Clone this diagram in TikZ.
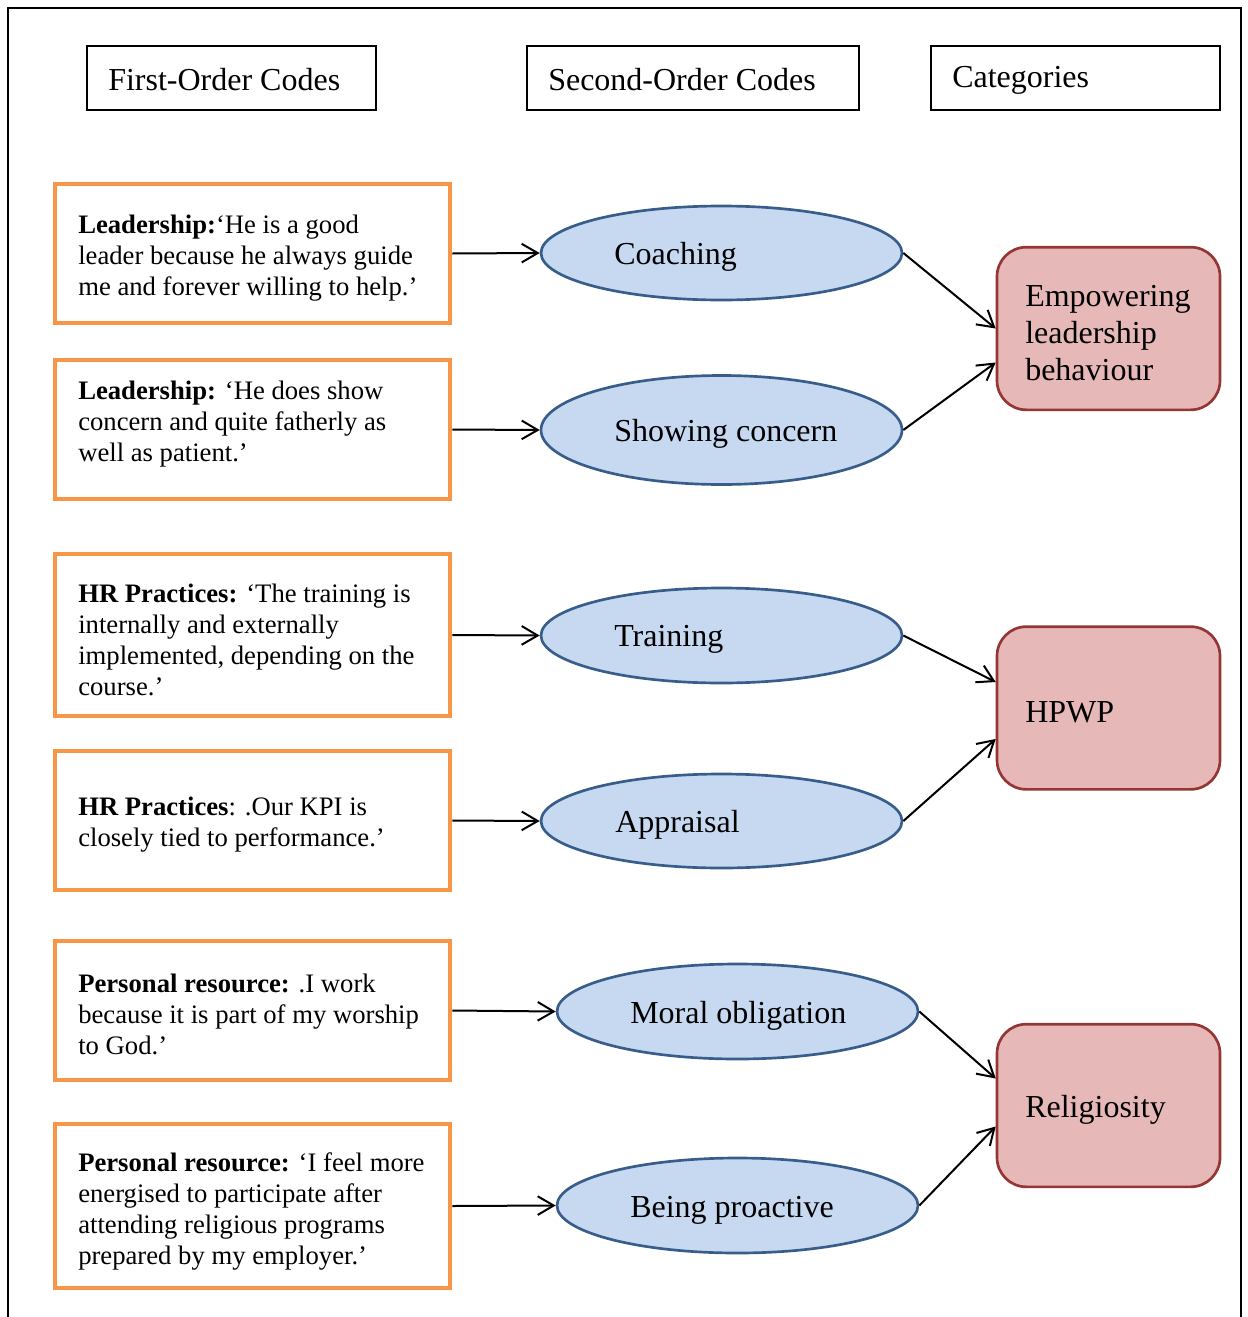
\documentclass[tikz,border=0pt]{standalone}
\usepackage{fontspec}
\setmainfont{Liberation Serif}
\usetikzlibrary{arrows.meta,shapes.geometric,calc}
\definecolor{obord}{HTML}{F79646}
\definecolor{efill}{HTML}{C6D9F1}
\definecolor{ebord}{HTML}{385D8A}
\definecolor{rfill}{HTML}{E6B9B8}
\definecolor{rbord}{HTML}{943634}
\tikzset{
  hdrbox/.style={draw=black, line width=1.5pt, inner sep=0pt, minimum width=#1*0.75pt, minimum height=48pt},
  obox/.style={draw=obord, line width=3.6pt, inner sep=0pt, minimum width=296.25pt},
  ell/.style={ellipse, draw=ebord, fill=efill, line width=2pt, inner sep=0pt, minimum width=270.75pt},
  cat/.style={draw=rbord, fill=rfill, line width=2pt, rounded corners=22pt, inner sep=0pt, minimum width=167.25pt, minimum height=122pt},
  bodytxt/.style={anchor=west, align=left, inner sep=0pt, font=\fontsize{20}{23.25}\selectfont},
  bigtxt/.style={anchor=west, align=left, inner sep=0pt, font=\fontsize{24}{27.75}\selectfont},
  conn/.style={line width=1.5pt, -{Straight Barb[length=12pt,width=14pt,line width=1.5pt]}}
}
\begin{document}
\begin{tikzpicture}[x=0.75pt,y=-0.75pt]
\useasboundingbox (0,0) rectangle (1248,1317);
% frame
\draw[line width=1.8pt] (8,1317) -- (8,8) -- (1241,8) -- (1241,1317);
% headers
\node[hdrbox=289] (h1) at (231.5,78) {};
\node[hdrbox=332] (h2) at (693,78) {};
\node[hdrbox=289] (h3) at (1075.5,78) {};
\node[bigtxt] (h1t) at (108,80) {First-Order Codes};
\node[bigtxt] (h2t) at (548,80) {Second-Order Codes};
\node[bigtxt] (h3t) at (952,80) {Categories};
% first-order boxes
\node[obox, minimum height=104.25pt] (b1) at (252.5,253.5) {};
\node[obox, minimum height=104.25pt] (b2) at (252.5,429.5) {};
\node[obox, minimum height=121.5pt] (b3) at (252.5,635) {};
\node[obox, minimum height=104.25pt] (b4) at (252.5,820.5) {};
\node[obox, minimum height=104.25pt] (b5) at (252.5,1010.5) {};
\node[obox, minimum height=123pt] (b6) at (252.5,1206) {};
\node[bodytxt] (b1t) at (78,258) {\textbf{Leadership:}‘He is a good\\leader because he always guide\\me and forever willing to help.’};
\node[bodytxt] (b2t) at (78,424) {\textbf{Leadership:} ‘He does show\\concern and quite fatherly as\\well as patient.’};
\node[bodytxt] (b3t) at (78,640) {\textbf{HR Practices:} ‘The training is\\internally and externally\\implemented, depending on the\\course.’};
\node[bodytxt] (b4t) at (78,825) {\textbf{HR Practices}: .Our KPI is\\closely tied to performance.’};
\node[bodytxt] (b5t) at (78,1014) {\textbf{Personal resource:} .I work\\because it is part of my worship\\to God.’};
\node[bodytxt] (b6t) at (78,1211) {\textbf{Personal resource:} ‘I feel more\\energised to participate after\\attending religious programs\\prepared by my employer.’};
% ellipses
\node[ell, minimum height=70.5pt] (e1) at (721.5,253) {};
\node[ell, minimum height=81.75pt] (e2) at (721.5,430) {};
\node[ell, minimum height=71.25pt] (e3) at (721.5,635.5) {};
\node[ell, minimum height=70.5pt] (e4) at (721.5,821) {};
\node[ell, minimum height=71.25pt] (e5) at (737.5,1011.5) {};
\node[ell, minimum height=71.25pt] (e6) at (737.5,1205.5) {};
\node[bigtxt] (e1t) at (614,257) {Coaching};
\node[bigtxt] (e2t) at (614,434) {Showing concern};
\node[bigtxt] (e3t) at (614,639) {Training};
\node[bigtxt] (e4t) at (615,825) {Appraisal};
\node[bigtxt] (e5t) at (630,1016) {Moral obligation};
\node[bigtxt] (e6t) at (630,1210) {Being proactive};
% categories
\node[cat] (r1) at (1108.5,328.5) {};
\node[cat] (r2) at (1108.5,708) {};
\node[cat] (r3) at (1108.5,1105.5) {};
\node[bigtxt] (r1t) at (1025,333) {Empowering\\leadership\\behaviour};
\node[bigtxt] (r2t) at (1025,712) {HPWP};
\node[bigtxt] (r3t) at (1025,1110) {Religiosity};
% connectors
\draw[conn] (b1.east) -- (e1.west);
\draw[conn] (b2.east) -- (e2.west);
\draw[conn] (b3.east) -- (e3.west);
\draw[conn] (b4.east) -- (e4.west);
\draw[conn] (b5.east) -- (e5.west);
\draw[conn] (b6.east) -- (e6.west);
\draw[conn] (e1.east) -- ($(r1.west)+(0,0)$);
\draw[conn] (e2.east) -- ($(r1.west)+(0,34)$);
\draw[conn] (e3.east) -- ($(r2.west)+(0,-26)$);
\draw[conn] (e4.east) -- ($(r2.west)+(0,31)$);
\draw[conn] (e5.east) -- ($(r3.west)+(0,-27)$);
\draw[conn] (e6.east) -- ($(r3.west)+(0,21)$);
\end{tikzpicture}
\end{document}
